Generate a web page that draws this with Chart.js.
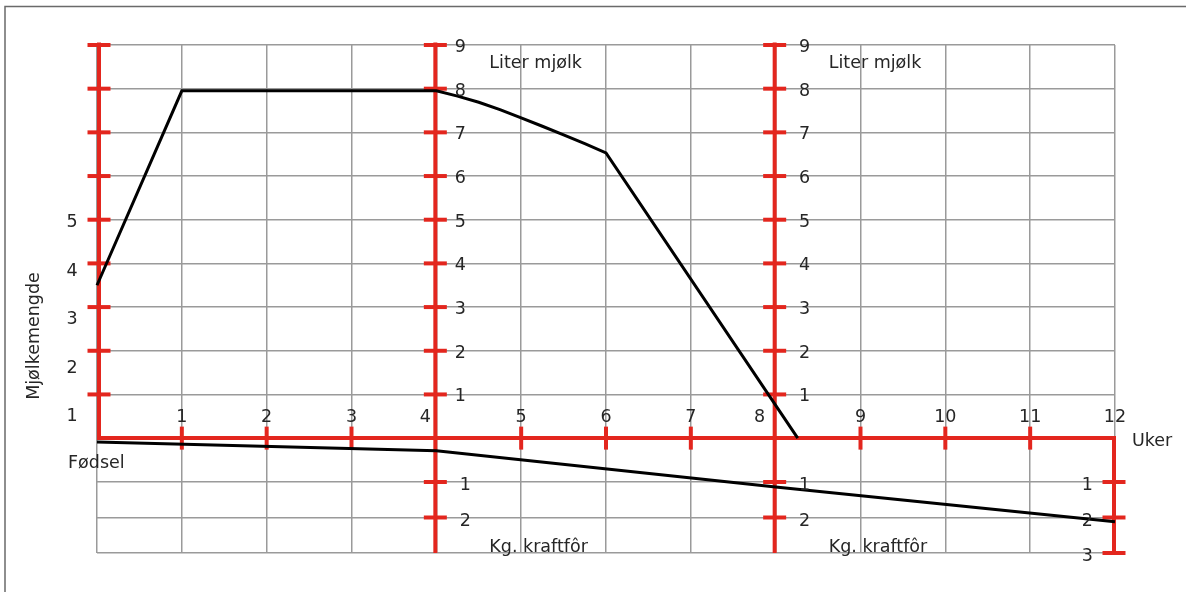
<!DOCTYPE html>
<html>
<head>
<meta charset="utf-8">
<script src="https://cdn.jsdelivr.net/npm/chart.js@4"></script>
<style>
  html, body { margin: 0; padding: 0; background: #fff; }
  canvas { display: block; }
</style>
</head>
<body>
<canvas id="chart" width="1186" height="592"></canvas>
<script>
// weeks along the bottom axis
const weeks = [0, 1, 2, 3, 4, 5, 6, 7, 8, 9, 10, 11, 12];
const mainAxes = [4, 8];            // the two red vertical axes in the middle
const litreTicks = [1, 2, 3, 4, 5, 6, 7, 8, 9];
const kgTicks = [1, 2, 3];
const amountTicks = [1, 2, 3, 4, 5]; // left "Mjølkemengde" labels

// milk curve (Liter mjølk)
const milkWeeks = [0, 1, 4, 4.25, 4.5, 4.75, 5, 5.25, 5.5, 5.75, 6, 8.26];
const milkLitres = [3.5, 7.95, 7.95, 7.83, 7.69, 7.52, 7.33, 7.14, 6.94, 6.74, 6.53, 0];

// concentrate feed (Kg. kraftfôr), drawn downwards
const feedWeeks = [0, 4, 8, 12];
const feedKg = [-0.13, 0.12, 1.14, 2.12];

const RED = '#e3261e';
const GRID = '#9a9a9a';
const TEXT = '#262626';
const FONT = '17.5px "DejaVu Sans", "Liberation Sans", sans-serif';

function seg(ctx, x1, y1, x2, y2) {
    ctx.beginPath();
    ctx.moveTo(x1, y1);
    ctx.lineTo(x2, y2);
    ctx.stroke();
}

const schematic = {
    id: 'schematic',
    beforeDraw(chart) {
        // the frame round the figure (only top and left are visible)
        const ctx = chart.ctx;
        ctx.save();
        ctx.strokeStyle = '#6a6a6a';
        ctx.lineWidth = 1.5;
        ctx.beginPath();
        ctx.moveTo(5, 592);
        ctx.lineTo(5, 6.5);
        ctx.lineTo(1186, 6.5);
        ctx.stroke();
        ctx.restore();
    },
    beforeDatasetsDraw(chart) {
        const { ctx, scales: { x, y, yk } } = chart;
        const x0 = x.getPixelForValue(0) + 2;
        const x12 = x.getPixelForValue(12) - 1;
        const y0 = y.getPixelForValue(0);
        const top = y.getPixelForValue(9);
        const bottom = yk.getPixelForValue(3);
        const h = 11.5;

        ctx.save();
        ctx.strokeStyle = RED;
        ctx.lineWidth = 4;
        ctx.lineCap = 'butt';
        ctx.lineJoin = 'miter';

        // left axis, week axis and right kg axis as one path
        ctx.beginPath();
        ctx.moveTo(x0, top - 2.5);
        ctx.lineTo(x0, y0);
        ctx.lineTo(x12, y0);
        ctx.lineTo(x12, bottom + 1);
        ctx.stroke();

        litreTicks.forEach(v => {
            const py = y.getPixelForValue(v);
            seg(ctx, x0 - h, py, x0 + h, py);
        });

        weeks.forEach(w => {
            if (w === 0 || w === 12 || mainAxes.includes(w)) return;
            const px = x.getPixelForValue(w);
            seg(ctx, px, y0 - h, px, y0 + h);
        });

        mainAxes.forEach(w => {
            const px = x.getPixelForValue(w) - 1;
            seg(ctx, px, top - 2.5, px, bottom);
            litreTicks.forEach(v => {
                const py = y.getPixelForValue(v);
                seg(ctx, px - h, py, px + h, py);
            });
            kgTicks.slice(0, 2).forEach(v => {
                const py = yk.getPixelForValue(v);
                seg(ctx, px - h, py, px + h, py);
            });
        });

        kgTicks.forEach(v => {
            const py = yk.getPixelForValue(v);
            seg(ctx, x12 - h, py, x12 + h, py);
        });
        ctx.restore();
    },
    afterDraw(chart) {
        const { ctx, scales: { x, y, yk, ym } } = chart;
        const y0 = y.getPixelForValue(0);
        const x12 = x.getPixelForValue(12) - 1;
        ctx.save();
        ctx.fillStyle = TEXT;
        ctx.font = FONT;
        ctx.textBaseline = 'alphabetic';

        // week numbers above the axis
        ctx.textAlign = 'center';
        weeks.forEach(w => {
            if (w === 0) return;
            let px = x.getPixelForValue(w);
            if (w === 4) px -= 11;
            if (w === 8) px -= 16;
            ctx.fillText(String(w), px, y0 - 16.5);
        });

        // litre numbers beside the middle axes, kg numbers below
        mainAxes.forEach(w => {
            const px = x.getPixelForValue(w);
            litreTicks.forEach(v => {
                ctx.fillText(String(v), px + (w === 4 ? 24 : 29), y.getPixelForValue(v) + 7);
            });
            kgTicks.slice(0, 2).forEach(v => {
                ctx.fillText(String(v), px + 29, yk.getPixelForValue(v) + 8);
            });
        });

        // left milk amount labels
        amountTicks.forEach(v => {
            ctx.fillText(String(v), 72, ym.getPixelForValue(v) + 6.5);
        });

        // right kg labels
        ctx.textAlign = 'right';
        kgTicks.forEach(v => {
            ctx.fillText(String(v), x12 - 21, yk.getPixelForValue(v) + 8);
        });

        // titles
        ctx.textAlign = 'left';
        mainAxes.forEach(w => {
            const px = x.getPixelForValue(w) - 1;
            ctx.fillText('Liter mjølk', px + 54, 68);
            ctx.fillText('Kg. kraftfôr', px + 54, 552);
        });
        ctx.fillText('Fødsel', 68, 468);
        ctx.fillText('Uker', x12 + 18, 446);

        ctx.translate(39, 336);
        ctx.rotate(-Math.PI / 2);
        ctx.textAlign = 'center';
        ctx.fillText('Mjølkemengde', 0, 0);
        ctx.restore();
    }
};

const hiddenTicks = { display: false };
const plainBorder = { display: false };

new Chart(document.getElementById('chart'), {
    type: 'line',
    data: {
        datasets: [
            {
                label: 'Liter mjølk',
                data: milkWeeks.map((w, i) => ({ x: w, y: milkLitres[i] })),
                borderColor: '#000',
                borderWidth: 3,
                pointRadius: 0,
                tension: 0,
                clip: false,
                yAxisID: 'y'
            },
            {
                label: 'Kg. kraftfôr',
                data: feedWeeks.map((w, i) => ({ x: w, y: feedKg[i] })),
                borderColor: '#000',
                borderWidth: 3,
                pointRadius: 0,
                tension: 0,
                clip: false,
                yAxisID: 'yk'
            }
        ]
    },
    options: {
        responsive: false,
        animation: false,
        layout: { padding: { left: 97, right: 71, top: 45, bottom: 39 } },
        plugins: {
            legend: { display: false },
            tooltip: { enabled: false }
        },
        scales: {
            x: {
                type: 'linear',
                min: 0,
                max: 12,
                afterBuildTicks: s => { s.ticks = weeks.map(v => ({ value: v })); },
                ticks: hiddenTicks,
                border: plainBorder,
                grid: { color: GRID, lineWidth: 1.5, drawTicks: false }
            },
            y: {
                type: 'linear',
                min: -2.63,
                max: 9,
                afterBuildTicks: s => { s.ticks = litreTicks.map(v => ({ value: v })); },
                ticks: hiddenTicks,
                border: plainBorder,
                grid: { color: GRID, lineWidth: 1.5, drawTicks: false }
            },
            yk: {
                type: 'linear',
                position: 'right',
                reverse: true,
                min: -11.31,
                max: 3,
                afterBuildTicks: s => { s.ticks = kgTicks.map(v => ({ value: v })); },
                ticks: hiddenTicks,
                border: plainBorder,
                grid: { color: GRID, lineWidth: 1.5, drawTicks: false }
            },
            ym: {
                type: 'linear',
                position: 'left',
                min: -1.86,
                max: 8.636,
                ticks: hiddenTicks,
                border: plainBorder,
                grid: { display: false, drawTicks: false }
            }
        }
    },
    plugins: [schematic]
});
</script>
</body>
</html>
